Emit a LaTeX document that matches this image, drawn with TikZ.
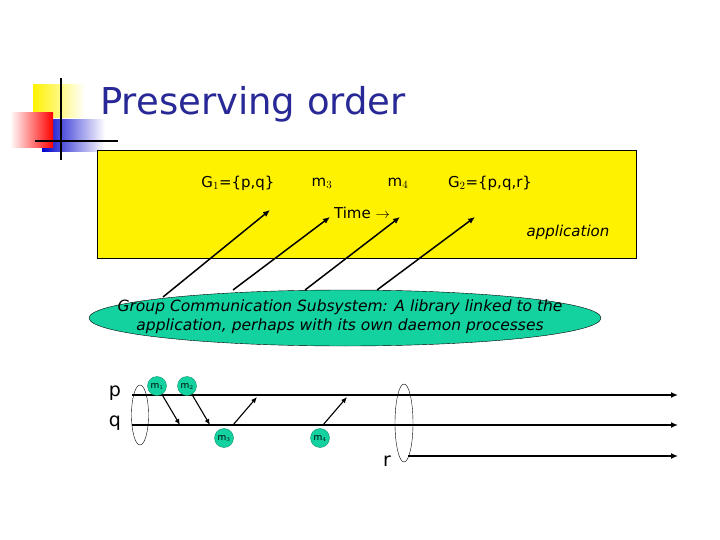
\documentclass[tikz,border=0pt]{standalone}
\usepackage{fontspec}
\setmainfont{DejaVu Sans}
\usetikzlibrary{arrows.meta}
\definecolor{ttl}{RGB}{40,40,150}
\definecolor{teal}{RGB}{20,210,160}
\begin{document}
\begin{tikzpicture}[x=1pt,y=-1pt,
  ar/.style={-{Latex[length=7pt,width=6pt]},line width=1.5pt},
  sar/.style={-{Latex[length=6pt,width=5pt]},line width=1.1pt},
  msg/.style={circle,fill=teal,draw=teal!70!black,inner sep=0pt,minimum size=19pt,font=\fontsize{9}{9}\selectfont},
  lbl/.style={font=\fontsize{15}{17}\selectfont}]
\useasboundingbox (0,0) rectangle (720,540);
% logo
\shade[left color=yellow!90!orange,right color=white] (33,85) rectangle (85,118);
\shade[left color=blue!80!black,right color=white] (42,120) rectangle (105,152);
\shade[left color=white,right color=red] (10,113) rectangle (53,148);
\draw[line width=1.5pt] (61,78) -- (61,160);
\draw[line width=1.5pt] (35,141) -- (118,141);
\node[anchor=west,text=ttl,font=\fontsize{37}{40}\selectfont,inner sep=0pt] (title) at (100,104) {Preserving order};
% application box
\node[draw,fill=yellow,minimum width=539pt,minimum height=108pt,inner sep=0pt] (app) at (366.5,204) {};
\node[lbl] (g1) at (238,183) {G$_1$=\{p,q\}};
\node[lbl] (m3t) at (322,183) {m$_3$};
\node[lbl] (m4t) at (398,183) {m$_4$};
\node[lbl] (g2) at (490,183) {G$_2$=\{p,q,r\}};
\node[lbl] (time) at (362,213) {Time $\rightarrow$};
\node[lbl,font=\fontsize{15}{17}\selectfont\itshape] (appl) at (568,232) {application};
% GCS ellipse
\draw[fill=teal] (345,318) ellipse (256 and 28);
\node[align=center,font=\fontsize{15.5}{19}\selectfont\itshape] (gcs) at (340,317) {Group Communication Subsystem: A library linked to the\\application, perhaps with its own daemon processes};
\coordinate (s1) at (163,297); \coordinate (t1) at (270,210);
\coordinate (s2) at (233,290); \coordinate (t2) at (330,217);
\coordinate (s3) at (305,290); \coordinate (t3) at (400,217);
\coordinate (s4) at (377,290); \coordinate (t4) at (475,217);
\draw[ar] (s1) -- (t1); \draw[ar] (s2) -- (t2); \draw[ar] (s3) -- (t3); \draw[ar] (s4) -- (t4);
% processes
\node[lbl,font=\fontsize{19}{20}\selectfont] (p) at (115,393) {p};
\node[lbl,font=\fontsize{19}{20}\selectfont] (q) at (115,423) {q};
\node[lbl,font=\fontsize{19}{20}\selectfont] (r) at (387,461) {r};
\coordinate (pa) at (132,395); \coordinate (pb) at (678,395);
\coordinate (qa) at (132,425); \coordinate (qb) at (678,425);
\coordinate (ra) at (408,456); \coordinate (rb) at (678,456);
\draw[ar] (pa) -- (pb); \draw[ar] (qa) -- (qb); \draw[ar] (ra) -- (rb);
\draw (140,415) ellipse (8.5 and 30);
\draw (404,423) ellipse (9 and 39);
\node[msg] (m1) at (157,386) {m$_1$};
\node[msg] (m2) at (187,386) {m$_2$};
\node[msg] (m3) at (224,438) {m$_3$};
\node[msg] (m4) at (320,438) {m$_4$};
\coordinate (a1) at (180,425); \coordinate (a2) at (210,425);
\coordinate (b3) at (233,425); \coordinate (a3) at (257,397);
\coordinate (b4) at (323,425); \coordinate (a4) at (347,397);
\draw[sar] (m1) -- (a1);
\draw[sar] (m2) -- (a2);
\draw[sar] (b3) -- (a3);
\draw[sar] (b4) -- (a4);
\end{tikzpicture}
\end{document}
